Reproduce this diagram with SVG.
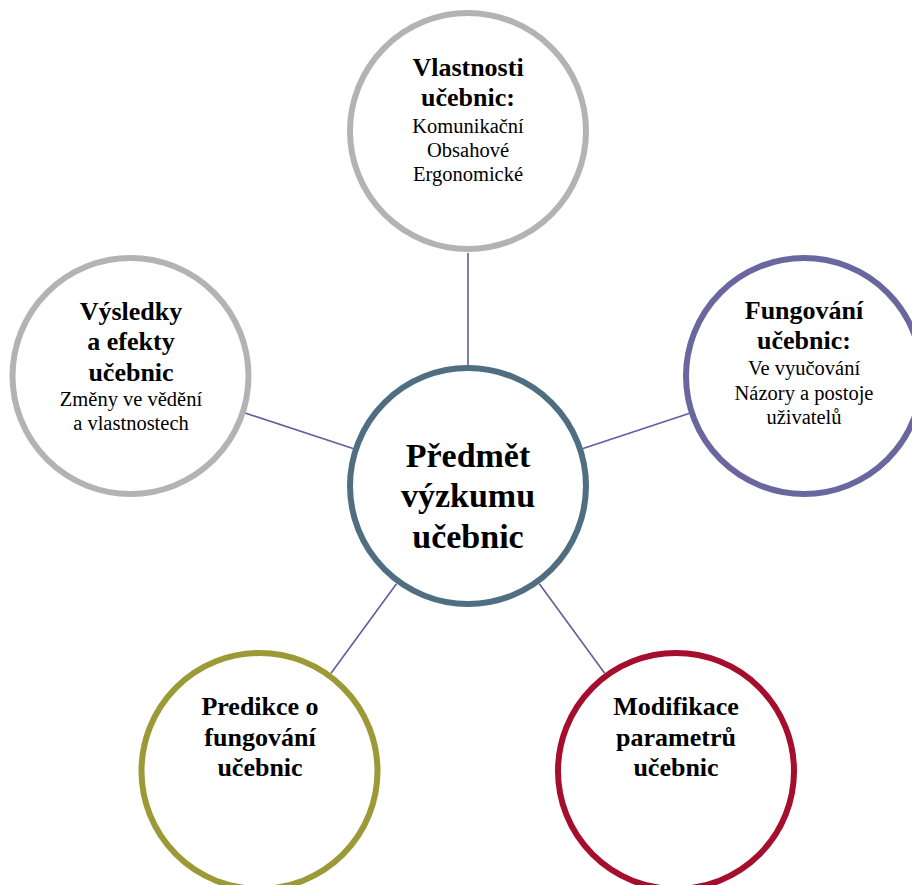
<svg xmlns="http://www.w3.org/2000/svg" width="912" height="885" viewBox="0 0 912 885">
<style>
.ring{fill:#ffffff;stroke-width:6}
.b{font-family:"Liberation Serif","Times New Roman",serif;font-weight:bold;font-size:26px;fill:#000;text-anchor:middle}
.r{font-family:"Liberation Serif","Times New Roman",serif;font-size:20.5px;fill:#000;text-anchor:middle}
.big{font-family:"Liberation Serif","Times New Roman",serif;font-weight:bold;font-size:34px;fill:#000;text-anchor:middle}
.con{stroke:#5d5f9d;stroke-width:1.6;fill:none}
</style>
<rect width="912" height="885" fill="#ffffff"/>
<g id="connectors">
<line class="con" x1="468" y1="253" x2="468" y2="365"/>
<line class="con" x1="245" y1="413" x2="353" y2="448.6"/>
<line class="con" x1="583" y1="448.4" x2="689" y2="413.6"/>
<line class="con" x1="396.5" y1="583.7" x2="331" y2="673.3"/>
<line class="con" x1="539.3" y1="583.7" x2="604.7" y2="673.3"/>
</g>
<g id="node-vlastnosti">
<circle class="ring" cx="468" cy="131" r="118" stroke="#b3b3b3"/>
<text class="b" x="468" y="76">Vlastnosti</text>
<text class="b" x="468" y="106">učebnic:</text>
<text class="r" x="468" y="133">Komunikační</text>
<text class="r" x="468" y="157">Obsahové</text>
<text class="r" x="468" y="181">Ergonomické</text>
</g>
<g id="node-vysledky">
<circle class="ring" cx="130.5" cy="376" r="118" stroke="#b3b3b3"/>
<text class="b" x="131" y="320">Výsledky</text>
<text class="b" x="131" y="350">a efekty</text>
<text class="b" x="131" y="381">učebnic</text>
<text class="r" x="131" y="406">Změny ve vědění</text>
<text class="r" x="131" y="430">a vlastnostech</text>
</g>
<g id="node-fungovani">
<circle class="ring" cx="804" cy="376" r="118" stroke="#6a679f"/>
<text class="b" x="804" y="319">Fungování</text>
<text class="b" x="804" y="349">učebnic:</text>
<text class="r" x="804" y="375">Ve vyučování</text>
<text class="r" x="804" y="400">Názory a postoje</text>
<text class="r" x="804" y="424">uživatelů</text>
</g>
<g id="node-predmet">
<circle class="ring" cx="468" cy="486" r="118" stroke="#4f6e82"/>
<text class="big" x="468" y="467">Předmět</text>
<text class="big" x="468" y="507">výzkumu</text>
<text class="big" x="468" y="548">učebnic</text>
</g>
<g id="node-predikce">
<circle class="ring" cx="259.5" cy="771" r="118" stroke="#9c9a37"/>
<text class="b" x="260" y="715">Predikce o</text>
<text class="b" x="260" y="746">fungování</text>
<text class="b" x="260" y="776">učebnic</text>
</g>
<g id="node-modifikace">
<circle class="ring" cx="676" cy="771" r="118" stroke="#a50f2d"/>
<text class="b" x="676" y="715">Modifikace</text>
<text class="b" x="676" y="746">parametrů</text>
<text class="b" x="676" y="776">učebnic</text>
</g>
</svg>
